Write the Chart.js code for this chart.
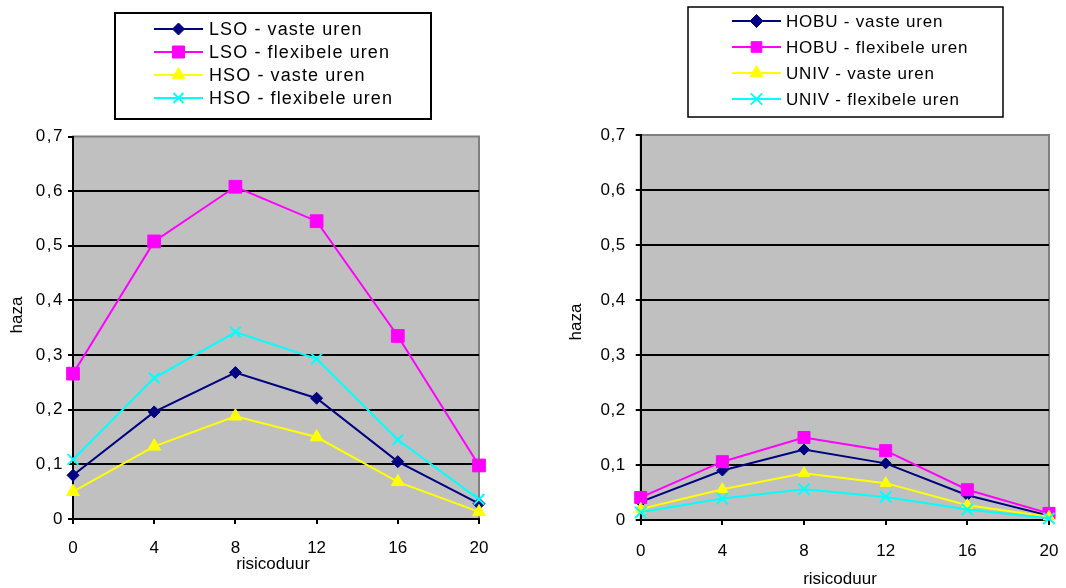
<!DOCTYPE html>
<html>
<head>
<meta charset="utf-8">
<script src="https://cdn.jsdelivr.net/npm/chart.js@4.4.1/dist/chart.umd.min.js"></script>
<style>
  html, body { margin: 0; padding: 0; background: #fff; width: 1066px; height: 588px; overflow: hidden; }
  canvas { position: absolute; top: 0; }
  #leftChart { left: 0; }
  #rightChart { left: 533px; }
</style>
</head>
<body>
<canvas id="leftChart" width="533" height="588"></canvas>
<canvas id="rightChart" width="533" height="588"></canvas>
<script>
// Risk duration categories on the x axis
const riskDuration = ['0', '4', '8', '12', '16', '20'];

// Hazard rates, LSO / HSO
const lsoFixed = [0.080, 0.196, 0.268, 0.221, 0.105, 0.028];
const lsoFlex  = [0.266, 0.508, 0.608, 0.545, 0.335, 0.098];
const hsoFixed = [0.050, 0.133, 0.188, 0.150, 0.068, 0.013];
const hsoFlex  = [0.109, 0.258, 0.342, 0.293, 0.145, 0.036];

// Hazard rates, HOBU / UNIV
const hobuFixed = [0.033, 0.090, 0.128, 0.103, 0.045, 0.008];
const hobuFlex  = [0.041, 0.106, 0.150, 0.126, 0.055, 0.012];
const univFixed = [0.020, 0.056, 0.085, 0.067, 0.027, 0.006];
const univFlex  = [0.014, 0.039, 0.056, 0.042, 0.019, 0.003];

const leftSeriesNames  = ['LSO - vaste uren', 'LSO - flexibele uren', 'HSO - vaste uren', 'HSO - flexibele uren'];
const rightSeriesNames = ['HOBU - vaste uren', 'HOBU - flexibele uren', 'UNIV - vaste uren', 'UNIV - flexibele uren'];

// Y axis range
const yMin = 0;
const yMax = 0.7;
const yStep = 0.1;

const xTitle = 'risicoduur';
const yTitle = 'haza';

const FONT = "'Liberation Sans', Arial, sans-serif";

const seriesStyles = [
  { color: '#000080', pointStyle: 'rectRot' },
  { color: '#FF00FF', pointStyle: 'rect' },
  { color: '#FFFF00', pointStyle: 'triangle' },
  { color: '#00FFFF', pointStyle: 'crossRot' }
];

function makeDatasets(names, series, radii) {
  return names.map((name, i) => ({
    label: name,
    data: series[i],
    borderColor: seriesStyles[i].color,
    backgroundColor: seriesStyles[i].color,
    pointBackgroundColor: seriesStyles[i].color,
    pointBorderColor: seriesStyles[i].color,
    pointStyle: seriesStyles[i].pointStyle,
    pointRadius: radii[i],
    pointBorderWidth: i === 3 ? 2 : 1,
    borderWidth: 2,
    tension: 0,
    clip: false,
    order: names.length - 1 - i   // later series drawn on top
  }));
}

// Grey plot area with a darker frame
const plotFrame = {
  id: 'plotFrame',
  beforeDraw(chart) {
    const { ctx, chartArea: a } = chart;
    ctx.save();
    ctx.fillStyle = '#C0C0C0';
    ctx.fillRect(a.left, a.top, a.right - a.left, a.bottom - a.top);
    ctx.strokeStyle = '#808080';
    ctx.lineWidth = 2;
    ctx.strokeRect(a.left, a.top, a.right - a.left, a.bottom - a.top);
    ctx.restore();
  }
};

// Widen the y tick label lettering a little
const tickSpacing = {
  id: 'tickSpacing',
  afterLayout(chart, args, opts) {
    const s = chart.scales.y;
    if (!s || s._spaced) return;
    const orig = s.drawLabels;
    s.drawLabels = function (area) {
      this.ctx.save();
      this.ctx.letterSpacing = opts.spacing || '0px';
      orig.call(this, area);
      this.ctx.restore();
    };
    s._spaced = true;
  }
};

function drawMarker(ctx, style, color, radius, x, y, lw) {
  const helpers = Chart.helpers;
  ctx.save();
  ctx.fillStyle = color;
  ctx.strokeStyle = color;
  ctx.lineWidth = lw;
  if (helpers && helpers.drawPoint) {
    helpers.drawPoint(ctx, { pointStyle: style, radius: radius, rotation: 0, borderWidth: lw }, x, y);
  }
  ctx.restore();
}

// Boxed legend with a line-and-marker sample per series
const boxLegend = {
  id: 'boxLegend',
  afterDraw(chart, args, o) {
    const ctx = chart.ctx;
    ctx.save();
    ctx.fillStyle = '#fff';
    ctx.fillRect(o.left, o.top, o.width, o.height);
    ctx.strokeStyle = '#000';
    ctx.lineWidth = o.borderWidth;
    ctx.strokeRect(o.left, o.top, o.width, o.height);
    chart.data.datasets.forEach((ds, i) => {
      const y = o.firstRow + i * o.rowGap;
      ctx.strokeStyle = ds.borderColor;
      ctx.lineWidth = 2;
      ctx.beginPath();
      ctx.moveTo(o.lineStart, y);
      ctx.lineTo(o.lineEnd, y);
      ctx.stroke();
      drawMarker(ctx, ds.pointStyle, ds.borderColor, o.markerRadii[i], (o.lineStart + o.lineEnd) / 2, y, i === 3 ? 2 : 1);
      ctx.fillStyle = '#000';
      ctx.font = o.fontSize + 'px ' + FONT;
      ctx.letterSpacing = o.letterSpacing;
      ctx.textAlign = 'left';
      ctx.textBaseline = 'middle';
      ctx.fillText(ds.label, o.textX, y + 1);
      ctx.letterSpacing = '0px';
    });
    ctx.restore();
  }
};

// Axis titles
const axisTitles = {
  id: 'axisTitles',
  afterDraw(chart, args, o) {
    const ctx = chart.ctx;
    ctx.save();
    ctx.fillStyle = '#000';
    ctx.font = '17px ' + FONT;
    ctx.textAlign = 'center';
    ctx.textBaseline = 'middle';
    ctx.fillText(xTitle, o.xTitleX, o.xTitleY);
    ctx.translate(o.yTitleX, o.yTitleY);
    ctx.rotate(-Math.PI / 2);
    ctx.fillText(yTitle, 0, 0);
    ctx.restore();
  }
};

function yLabel(v) {
  if (Math.abs(v) < 1e-9) return '0';
  return v.toFixed(1).replace('.', ',');
}

function makeChart(canvasId, names, series, cfg) {
  return new Chart(document.getElementById(canvasId), {
    type: 'line',
    data: { labels: riskDuration, datasets: makeDatasets(names, series, cfg.pointRadii) },
    plugins: [plotFrame, tickSpacing, boxLegend, axisTitles],
    options: {
      responsive: false,
      devicePixelRatio: 1,
      animation: false,
      events: [],
      layout: { padding: cfg.padding, autoPadding: false },
      plugins: {
        legend: { display: false },
        tooltip: { enabled: false },
        title: { display: false },
        tickSpacing: { spacing: cfg.yTickSpacing },
        boxLegend: cfg.legend,
        axisTitles: cfg.titles
      },
      scales: {
        x: {
          type: 'category',
          offset: false,
          afterFit(scale) {
            scale.height = cfg.xAxisHeight;
            // the plot width is fixed by the layout padding alone
            scale.paddingLeft = 0;
            scale.paddingRight = 0;
          },
          grid: { drawOnChartArea: false, drawTicks: true, tickLength: 5, color: '#000', lineWidth: 2 },
          border: { color: '#000', width: 2 },
          ticks: { color: '#000', font: { family: FONT, size: 17 }, padding: cfg.xTickPadding, maxRotation: 0, autoSkip: false }
        },
        y: {
          min: yMin,
          max: yMax,
          afterFit(scale) {
            scale.width = cfg.yAxisWidth;
            scale.paddingTop = 0;
            scale.paddingBottom = 0;
          },
          grid: {
            color: c => (c.tick && c.tick.value > yMax - yStep / 2) ? 'rgba(0,0,0,0)' : '#000',
            tickColor: '#000',
            lineWidth: 2,
            drawTicks: true,
            tickLength: 5
          },
          border: { color: '#000', width: 2 },
          ticks: {
            stepSize: yStep,
            color: '#000',
            font: { family: FONT, size: cfg.yTickSize },
            padding: cfg.yTickPadding,
            callback: yLabel
          }
        }
      }
    }
  });
}

makeChart('leftChart', leftSeriesNames, [lsoFixed, lsoFlex, hsoFixed, hsoFlex], {
  pointRadii: [6, 9, 7.5, 7.5],
  padding: { left: 0, top: 136.5, right: 54, bottom: 0 },
  yAxisWidth: 73,
  xAxisHeight: 69,
  xTickPadding: 14,
  yTickPadding: 4,
  yTickSize: 17,
  yTickSpacing: '1.5px',
  legend: {
    left: 115, top: 13, width: 316, height: 106, borderWidth: 2,
    firstRow: 29, rowGap: 23,
    lineStart: 154, lineEnd: 203, textX: 209,
    fontSize: 18, letterSpacing: '1.1px',
    markerRadii: [6, 8.5, 7.5, 7]
  },
  titles: { xTitleX: 273, xTitleY: 564, yTitleX: 17, yTitleY: 315 }
});

makeChart('rightChart', rightSeriesNames, [hobuFixed, hobuFlex, univFixed, univFlex], {
  pointRadii: [5.5, 8.5, 6.5, 8],
  padding: { left: 0, top: 135, right: 17, bottom: 0 },
  yAxisWidth: 107.7,
  xAxisHeight: 68,
  xTickPadding: 16.5,
  yTickPadding: 10,
  yTickSize: 17,
  yTickSpacing: '0.5px',
  legend: {
    left: 155, top: 7, width: 315, height: 110, borderWidth: 1.5,
    firstRow: 21, rowGap: 26,
    lineStart: 199, lineEnd: 248, textX: 253,
    fontSize: 17, letterSpacing: '0.8px',
    markerRadii: [6.5, 7.5, 7.5, 8]
  },
  titles: { xTitleX: 307, xTitleY: 579, yTitleX: 43, yTitleY: 322 }
});
</script>
</body>
</html>
